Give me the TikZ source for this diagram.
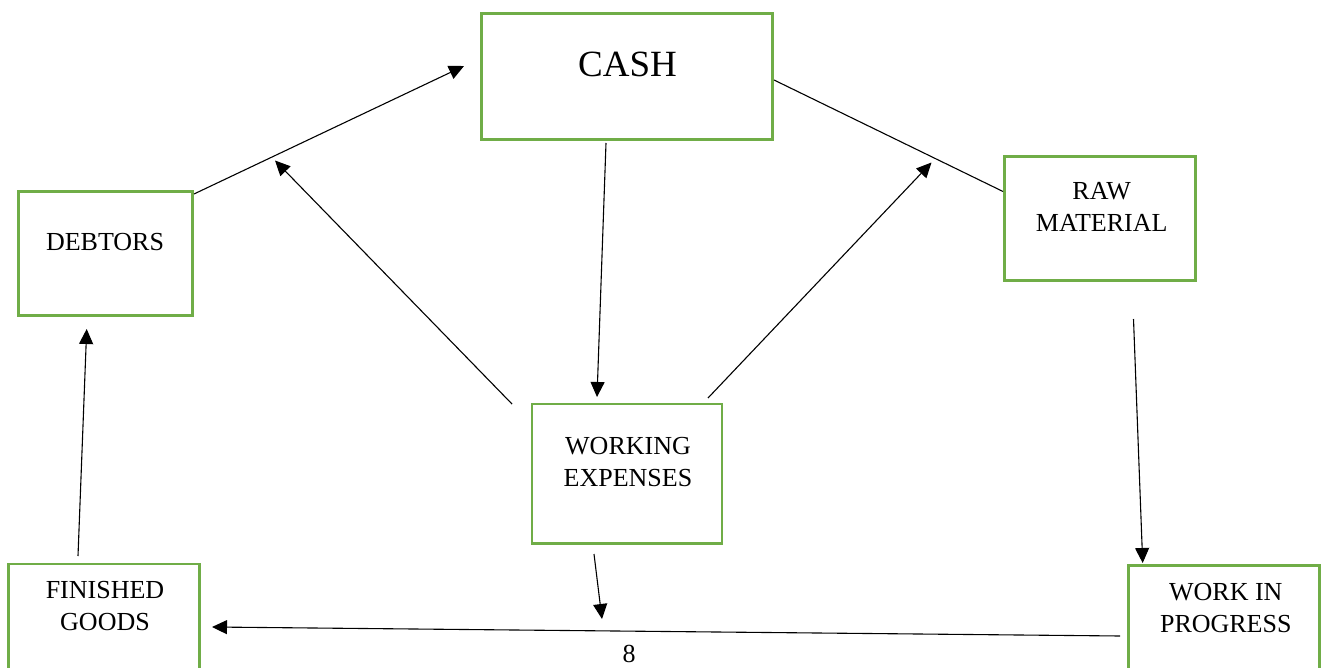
\documentclass[tikz,border=0pt]{standalone}
\usepackage{fontspec}
\setmainfont{Liberation Serif}
\usetikzlibrary{arrows.meta}
\definecolor{boxgreen}{HTML}{70AD47}
\begin{document}
\begin{tikzpicture}[x=1pt,y=-1pt,
  box/.style={draw=boxgreen, line width=2.3pt, rectangle, inner sep=0pt, outer sep=0pt, anchor=north west},
  lbl/.style={anchor=north, inner sep=0pt, align=center, font=\fontsize{26}{32.5}\selectfont},
  conn/.style={line width=1.1pt, draw=black},
  arr/.style={conn, -{Triangle[length=15pt, width=14pt]}}]
\clip (0,0) rectangle (1325,668);
\fill[white] (0,0) rectangle (1325,668);
% boxes
\node[box, minimum width=291pt, minimum height=126pt] (cash) at (481.5,13.5) {};
\node[box, minimum width=174pt, minimum height=124pt] (debtors) at (18.5,191.5) {};
\node[box, minimum width=191pt, minimum height=124pt] (raw) at (1004.5,156.5) {};
\node[box, minimum width=190pt, minimum height=139.5pt] (we) at (532,404) {};
\node[box, minimum width=191pt, minimum height=140pt] (fg) at (8.5,564) {};
\node[box, minimum width=191pt, minimum height=140pt] (wip) at (1128.5,565.5) {};
% labels
\node[lbl, font=\fontsize{37}{40}\selectfont] (cashT) at (627.5,51.6) {CASH};
\node[lbl] (debtorsT) at (105,232.7) {DEBTORS};
\node[lbl] (rawT) at (1101.7,181.7) {RAW\\MATERIAL};
\node[lbl] (weT) at (628,436.7) {WORKING\\EXPENSES};
\node[lbl] (fgT) at (105,580.7) {FINISHED\\GOODS};
\node[lbl] (wipT) at (1225.8,583) {WORK IN\\PROGRESS};
\node[anchor=north, inner sep=0pt, font=\fontsize{26}{28}\selectfont] (page) at (629,645) {8};
% connector end points
\coordinate (d1) at (194,194);   \coordinate (c1) at (464,66);
\coordinate (c2) at (774,80);    \coordinate (r1) at (1003,191.5);
\coordinate (c3) at (606,143);   \coordinate (w1) at (597,397);
\coordinate (w2) at (512,404);   \coordinate (u1) at (275,160.5);
\coordinate (w3) at (708,398);   \coordinate (u2) at (931.5,162.5);
\coordinate (r2) at (1133.5,319); \coordinate (p1) at (1142.7,563);
\coordinate (w4) at (594,554);   \coordinate (m1) at (602,619);
\coordinate (p2) at (1120,636);  \coordinate (f1) at (212,627);
\coordinate (f2) at (78,556);    \coordinate (d2) at (86.7,329);
% connectors
\draw[arr] (d1) -- (c1);
\draw[conn] (c2) -- (r1);
\draw[arr] (c3) -- (w1);
\draw[arr] (w2) -- (u1);
\draw[arr] (w3) -- (u2);
\draw[arr] (r2) -- (p1);
\draw[arr] (w4) -- (m1);
\draw[arr] (p2) -- (f1);
\draw[arr] (f2) -- (d2);
\end{tikzpicture}
\end{document}
